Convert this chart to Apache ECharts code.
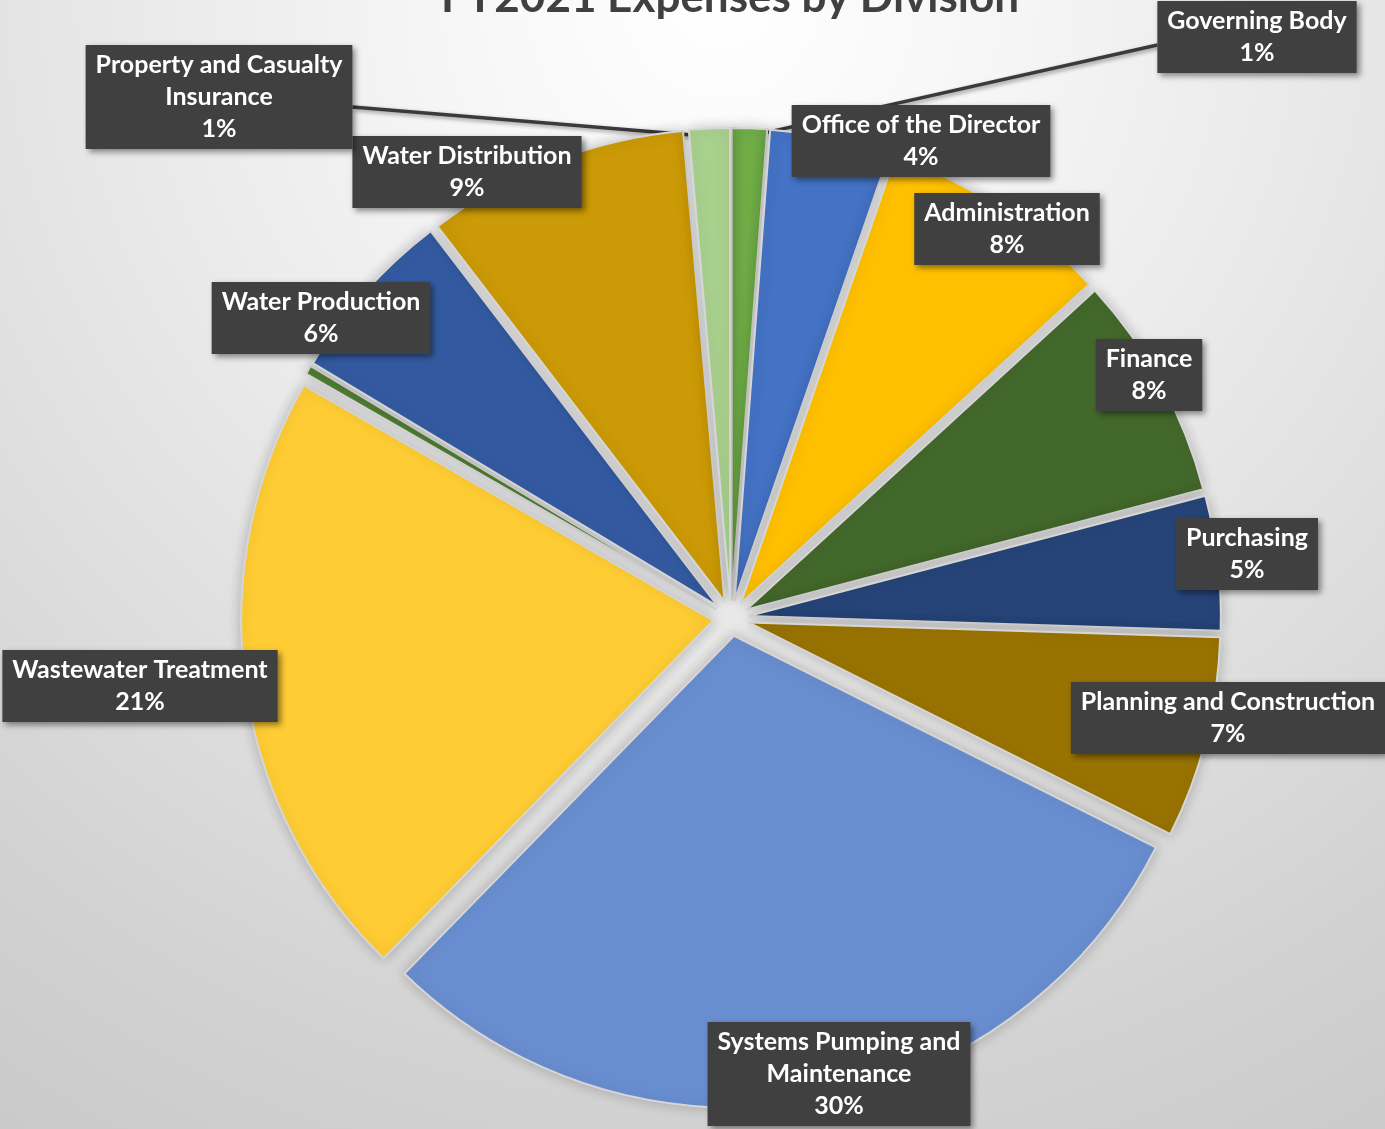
<!DOCTYPE html>
<html><head><meta charset="utf-8">
<script src="https://cdn.jsdelivr.net/npm/echarts@6/dist/echarts.min.js"></script>
<style>
html,body{margin:0;padding:0;overflow:hidden;}
#c{width:1385px;height:1129px;background:radial-gradient(circle at 52% 0%, #ffffff 0px, #f7f7f7 250px, #ebebeb 550px, #e0e0e0 800px, #d2d2d2 1100px, #cacaca 1330px);}
</style>
</head><body><div id="c"></div>
<script>
const chartTitle = 'FY2021 Expenses by Division';
const categories = ['Governing Body','Office of the Director','Administration','Finance','Purchasing','Planning and Construction','Systems Pumping and Maintenance','Wastewater Treatment','Other','Water Production','Water Distribution','Property and Casualty Insurance'];
const labelText = ['Governing Body','Office of the Director','Administration','Finance','Purchasing','Planning and Construction','Systems Pumping and\nMaintenance','Wastewater Treatment','','Water Production','Water Distribution','Property and Casualty\nInsurance'];
const shares = [1.2, 4.1, 7.9, 7.7, 4.6, 6.9, 29.9, 21.0, 0.3, 6.0, 9.0, 1.4];
const colors = ['#70AD47','#4472C4','#FFC000','#43682B','#264478','#997300','#698ED0','#FFCD33','#548235','#335AA1','#CC9A06','#A9D18E'];
// label box centres (layout only)
const labelCenters = [[1257,37],[921,141],[1007,229],[1149,375],[1247,554],[1228,718],[839,1074],[140,686],null,[321,318],[467,172],[219,97]];
const leaderIdx = {0:'left', 11:'right'};

const chart = echarts.init(document.getElementById('c'), null, {renderer:'canvas'});
const pieCenter = [731,618];
const pieRadius = 472;
const sliceData = categories.map((n,i)=>({
  name:n, value:shares[i], selected:true,
  itemStyle:{color:colors[i]}
}));
const labelData = categories.map((n,i)=>({
  name:n, value:shares[i],
  label:{show: i!==8},
  labelLine:{show: (i in leaderIdx)}
}));
chart.setOption({
  animation:false,
  backgroundColor:'transparent',
  title:{text:chartTitle, left:725, textAlign:'center', top:-29,
    textStyle:{fontFamily:'Lato', fontWeight:'bold', fontSize:44, color:'#404040'}},
  series:[{
    type:'pie',
    center:pieCenter,
    radius:pieRadius,
    startAngle:90,
    clockwise:true,
    selectedMode:'multiple',
    selectedOffset:18,
    emphasis:{disabled:true},
    itemStyle:{borderColor:'#d6d6d6', borderWidth:2, shadowBlur:14, shadowColor:'rgba(0,0,0,0.22)'},
    label:{show:false},
    labelLine:{show:false},
    data:sliceData
  },{
    type:'pie',
    center:pieCenter,
    radius:pieRadius + 10,
    startAngle:90,
    clockwise:true,
    silent:true,
    avoidLabelOverlap:false,
    emphasis:{disabled:true},
    itemStyle:{color:'rgba(0,0,0,0)', borderWidth:0},
    label:{
      show:true, position:'outside',
      formatter:p=>labelText[p.dataIndex]+'\n'+Math.round(p.percent)+'%',
      color:'#ffffff', fontFamily:'Lato', fontWeight:'bold', fontSize:25, lineHeight:32,
      align:'center',
      backgroundColor:'#404040', padding:[5,10,3,10],
      shadowBlur:6, shadowColor:'rgba(0,0,0,0.45)', shadowOffsetX:3, shadowOffsetY:3
    },
    labelLine:{lineStyle:{color:'#3a3a3a', width:3.5, shadowBlur:4, shadowColor:'rgba(0,0,0,0.4)', shadowOffsetX:2, shadowOffsetY:2}},
    labelLayout:function(p){
      const c = labelCenters[p.dataIndex];
      if(!c) return {};
      const res = {x:c[0], y:c[1], align:'center', verticalAlign:'middle'};
      const side = leaderIdx[p.dataIndex];
      if(side && p.labelLinePoints){
        const p0 = p.labelLinePoints[0];
        const w = p.labelRect.width;
        const ex = side==='left' ? c[0]-w/2 : c[0]+w/2;
        const ey = side==='left' ? c[1]+8 : c[1]+10;
        res.labelLinePoints = [p0, p0, [ex, ey]];
      }
      return res;
    },
    data:labelData
  }]
});
</script>
</body></html>
